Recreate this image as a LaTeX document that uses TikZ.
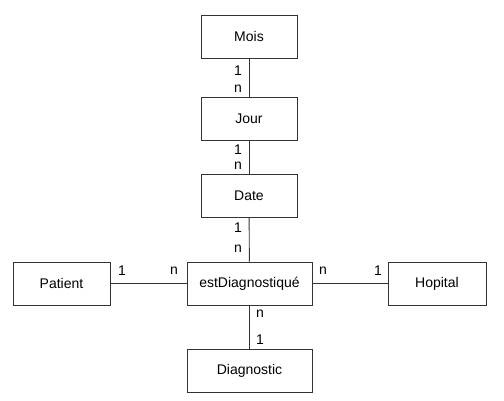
\documentclass[tikz,border=0pt]{standalone}
\usepackage{fontspec}
\setmainfont{Liberation Sans}
\usepackage{tikz}
\tikzset{
	entity/.style 2 args={rectangle,draw=black!80,line width=0.9pt,minimum width=#1,minimum height=43pt,inner sep=0pt,font=\fontsize{14}{16}\selectfont,name=#2},
	card/.style={inner sep=0pt,font=\fontsize{14}{16}\selectfont},
	link/.style={draw=black!80,line width=0.9pt}
}
\begin{document}
\begin{tikzpicture}[x=1pt,y=-1pt]
						\useasboundingbox (0,0) rectangle (504,401);
						\node [entity={96pt}{mois}] at (249,36.5) {Mois};
						\node [entity={96pt}{jour}] at (249,118.5) {Jour};
						\node [entity={96pt}{date}] at (249,195.5) {Date};
						\node [entity={125pt}{est}] at (249.5,283.5) {estDiagnostiqué};
						\node [entity={97pt}{patient}] at (61.5,283.5) {Patient};
						\node [entity={98pt}{hopital}] at (437,283.5) {Hopital};
						\node [entity={125pt}{diagnostic}] at (249.5,371) {Diagnostic};

						\draw [link] (mois) -- (jour);
						\draw [link] (jour) -- (date);
						\draw [link] (date) -- (est);
						\draw [link] (patient) -- (est);
						\draw [link] (est) -- (hopital);
						\draw [link] (est) -- (diagnostic);

						\node [card] (c1) at (238,71) {1};
						\node [card] (c2) at (238,89) {n};
						\node [card] (c3) at (238,150) {1};
						\node [card] (c4) at (238,166) {n};
						\node [card] (c5) at (238,228) {1};
						\node [card] (c6) at (238,249) {n};
						\node [card] (c7) at (122,271) {1};
						\node [card] (c8) at (174,271) {n};
						\node [card] (c9) at (323,271) {n};
						\node [card] (c10) at (378,271) {1};
						\node [card] (c11) at (260,314) {n};
						\node [card] (c12) at (260,340) {1};
					\end{tikzpicture}
\end{document}
